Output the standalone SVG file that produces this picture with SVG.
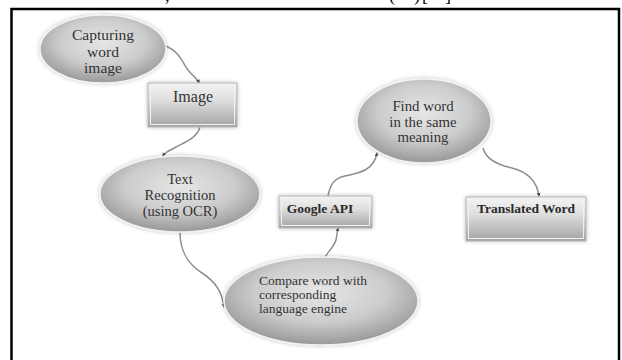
<svg xmlns="http://www.w3.org/2000/svg" width="622" height="360" viewBox="0 0 622 360">
<defs>
<radialGradient id="eg" cx="50%" cy="40%" r="62%">
<stop offset="0" stop-color="#e6e6e6"/>
<stop offset="0.55" stop-color="#cccccc"/>
<stop offset="1" stop-color="#949494"/>
</radialGradient>
<linearGradient id="rg" x1="0" y1="0" x2="0" y2="1">
<stop offset="0" stop-color="#f4f4f4"/>
<stop offset="0.4" stop-color="#dedede"/>
<stop offset="1" stop-color="#a2a2a2"/>
</linearGradient>
<filter id="sh" x="-20%" y="-20%" width="140%" height="140%">
<feGaussianBlur in="SourceAlpha" stdDeviation="2"/>
<feComponentTransfer><feFuncA type="linear" slope="0.25"/></feComponentTransfer>
<feMerge><feMergeNode/><feMergeNode in="SourceGraphic"/></feMerge>
</filter>
<marker id="ah" viewBox="0 0 6 6" refX="5" refY="3" markerWidth="4" markerHeight="4" orient="auto" markerUnits="userSpaceOnUse">
<path d="M0,0 L6,3 L0,6 z" fill="#555"/>
</marker>
</defs>
<style>
.el{fill:url(#eg);stroke:#f2f2f2;stroke-width:1.5;filter:url(#sh)}
.bx{fill:url(#rg);stroke:#b4b4b4;stroke-width:1;filter:url(#sh)}
.in{fill:none;stroke:#f0f0f0;stroke-width:1}
.t{font-family:"Liberation Serif","Times New Roman",serif;fill:#333}
.c{text-anchor:middle}
.b{font-weight:bold;fill:#2a2a2a}
.cn{fill:none;stroke:#8e8e8e;stroke-width:1.5;marker-end:url(#ah)}
.frag{font-family:"Liberation Serif","Times New Roman",serif;font-size:18px;fill:#000}
</style>
<rect width="622" height="360" fill="#fff"/>
<text class="frag" y="1"><tspan x="165">,</tspan><tspan x="389">(</tspan><tspan x="414">)</tspan><tspan x="422">[</tspan><tspan x="445">]</tspan></text>
<path d="M11.5,370 L11.5,9 L619,9 L619,370" fill="none" stroke="#000" stroke-width="2.5"/>
<g id="connectors">
<path class="cn" d="M166,46 C180,52 182,62 188,70 S197,77 199,83"/>
<path class="cn" d="M200,127 C197,138 185,142 176,147 S165,152 163,156"/>
<path class="cn" d="M180,232 C180,252 188,264 202,273 C216,282 222,292 224,307"/>
<path class="cn" d="M322,268 C322,255 333,250 336,240 L338,228"/>
<path class="cn" d="M328,196 C330,185 334,178 345,176 C360,173 374,170 377,153"/>
<path class="cn" d="M483,148 C486,160 498,165 512,168 C528,172 537,182 539,196"/>
</g>
<g id="capturing">
<ellipse class="el" cx="103" cy="49" rx="63" ry="34"/>
<text class="t c" font-size="15.5"><tspan x="103" y="40">Capturing</tspan><tspan x="103" y="57">word</tspan><tspan x="103" y="73">image</tspan></text>
</g>
<g id="image">
<rect class="bx" x="148" y="83" width="89" height="44"/>
<rect class="in" x="150.5" y="85.5" width="84" height="39"/>
<text class="t c" font-size="16" x="193" y="102">Image</text>
</g>
<g id="textrec">
<ellipse class="el" cx="180" cy="194" rx="80" ry="38"/>
<text class="t c" font-size="14.5"><tspan x="180" y="184">Text</tspan><tspan x="180" y="200">Recognition</tspan><tspan x="180" y="216">(using OCR)</tspan></text>
</g>
<g id="compare">
<ellipse class="el" cx="321" cy="301" rx="97" ry="44"/>
<text class="t" font-size="13.5"><tspan x="259" y="285">Compare word with</tspan><tspan x="259" y="299">corresponding</tspan><tspan x="259" y="313">language  engine</tspan></text>
</g>
<g id="google">
<rect class="bx" x="279" y="196" width="93" height="32"/>
<rect class="in" x="281.5" y="198.5" width="88" height="27"/>
<text class="t b c" font-size="13.5" x="320" y="213">Google API</text>
</g>
<g id="findword">
<ellipse class="el" cx="424" cy="121" rx="67" ry="42"/>
<text class="t c" font-size="14.8"><tspan x="423" y="111">Find word</tspan><tspan x="423" y="126.5">in the same</tspan><tspan x="423" y="142">meaning</tspan></text>
</g>
<g id="translated">
<rect class="bx" x="466" y="197" width="120" height="44"/>
<rect class="in" x="468.5" y="199.5" width="115" height="39"/>
<text class="t b c" font-size="13.5" x="526" y="213">Translated  Word</text>
</g>
</svg>
